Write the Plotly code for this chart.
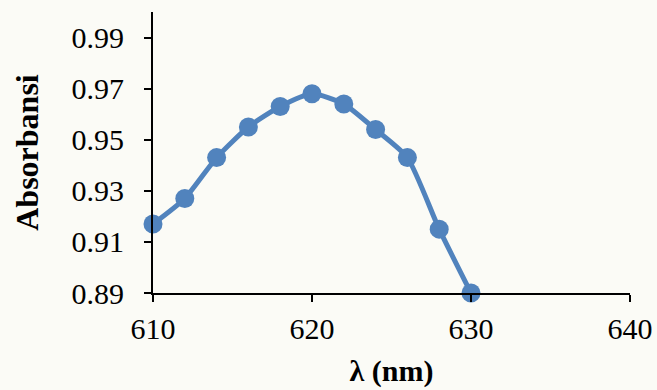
import plotly.graph_objects as go

# Wavelength scan of absorbance
wavelength_nm = [610, 612, 614, 616, 618, 620, 622, 624, 626, 628, 630]
absorbance = [0.917, 0.927, 0.943, 0.955, 0.963, 0.968, 0.964, 0.954, 0.943, 0.915, 0.890]

x_ticks = [610, 620, 630, 640]
y_ticks = [0.89, 0.91, 0.93, 0.95, 0.97, 0.99]
y_tick_text = ["0.89", "0.91", "0.93", "0.95", "0.97", "0.99"]

series_color = "#5183BD"
font_family = "Liberation Serif, Times New Roman, serif"

fig = go.Figure(
    go.Scatter(
        x=wavelength_nm,
        y=absorbance,
        mode="lines+markers",
        line=dict(color=series_color, width=5, shape="spline", smoothing=0.6),
        marker=dict(color=series_color, size=19),
        cliponaxis=False,
        showlegend=False,
    )
)

fig.update_layout(
    width=657,
    height=390,
    margin=dict(l=153, r=27, t=12, b=97),
    paper_bgcolor="#FBFBF6",
    plot_bgcolor="#FBFBF6",
    font=dict(family=font_family, color="#000000", size=30),
)

fig.update_xaxes(
    range=[610, 640],
    tickvals=x_ticks,
    ticktext=[str(v) for v in x_ticks],
    showgrid=False,
    zeroline=False,
    showline=True,
    linecolor="#000000",
    linewidth=2,
    ticks="outside",
    ticklen=7,
    tickwidth=2,
    tickcolor="#000000",
    ticklabelstandoff=1,
    tickfont=dict(size=30),
    automargin=False,
    title=dict(text="<b>λ (nm)</b>", font=dict(size=30), standoff=16),
)

fig.update_yaxes(
    range=[0.89, 1.0],
    tickvals=y_ticks,
    ticktext=y_tick_text,
    showgrid=False,
    zeroline=False,
    showline=True,
    linecolor="#000000",
    linewidth=2,
    ticks="outside",
    ticklen=7,
    tickwidth=2,
    tickcolor="#000000",
    ticklabelstandoff=14,
    tickfont=dict(size=30),
    automargin=False,
    title=dict(text="<b>Absorbansi</b>", font=dict(size=32), standoff=23),
)

fig.write_html("out.html")
